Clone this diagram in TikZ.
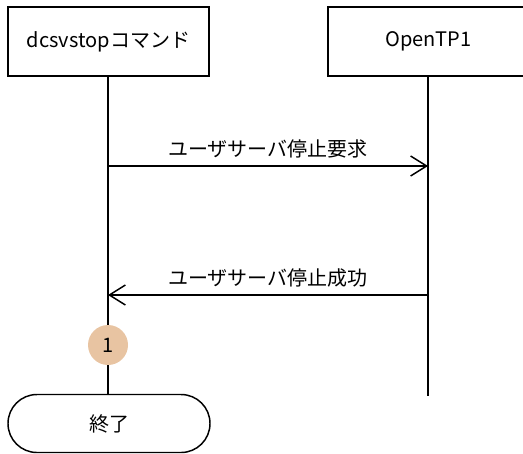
\documentclass[tikz,border=0pt]{standalone}
\usepackage{fontspec}
\setmainfont{Noto Sans CJK JP}
\usetikzlibrary{arrows.meta}
\definecolor{stepfill}{RGB}{232,196,162}

\tikzset{
  headbox/.style={draw, minimum width=150.75pt, minimum height=51.75pt, inner sep=0pt},
  msgline/.style={-{Straight Barb[length=12pt, width=15pt]}},
  msglabel/.style={midway, above, yshift=2pt},
  stepmark/.style={circle, fill=stepfill, minimum size=30pt, inner sep=0pt},
  endbox/.style={draw, rounded corners=21.7pt, minimum width=151.5pt, minimum height=43.5pt, inner sep=0pt}
}

\begin{document}
\begin{tikzpicture}[x=0.75pt, y=-0.75pt, line width=1.1pt, font=\fontsize{15}{18}\selectfont]
\useasboundingbox (0,0) rectangle (523,453);

% Header boxes
\node[headbox] (cmd) at (108.5,41.5) {dcsvstopコマンド};
\node[headbox] (otp) at (428.5,41.5) {OpenTP1};

% Terminal
\node[endbox] (done) at (109,423.5) {終了};

% Lifelines
\coordinate (otpend) at (428,396);
\coordinate (cmdreq) at (108,166);
\coordinate (otpreq) at (428,166);
\coordinate (cmdres) at (108,295);
\coordinate (otpres) at (428,295);
\draw (cmd.south -| cmdreq) -- (done.north -| cmdreq);
\draw (otp.south -| otpreq) -- (otpend);

% Messages
\draw[msgline] (cmdreq) -- (otpreq) node[msglabel] {ユーザサーバ停止要求};
\draw[msgline] (otpres) -- (cmdres) node[msglabel] {ユーザサーバ停止成功};

% Step mark
\node[stepmark] (one) at (108,345) {1};
\end{tikzpicture}
\end{document}
